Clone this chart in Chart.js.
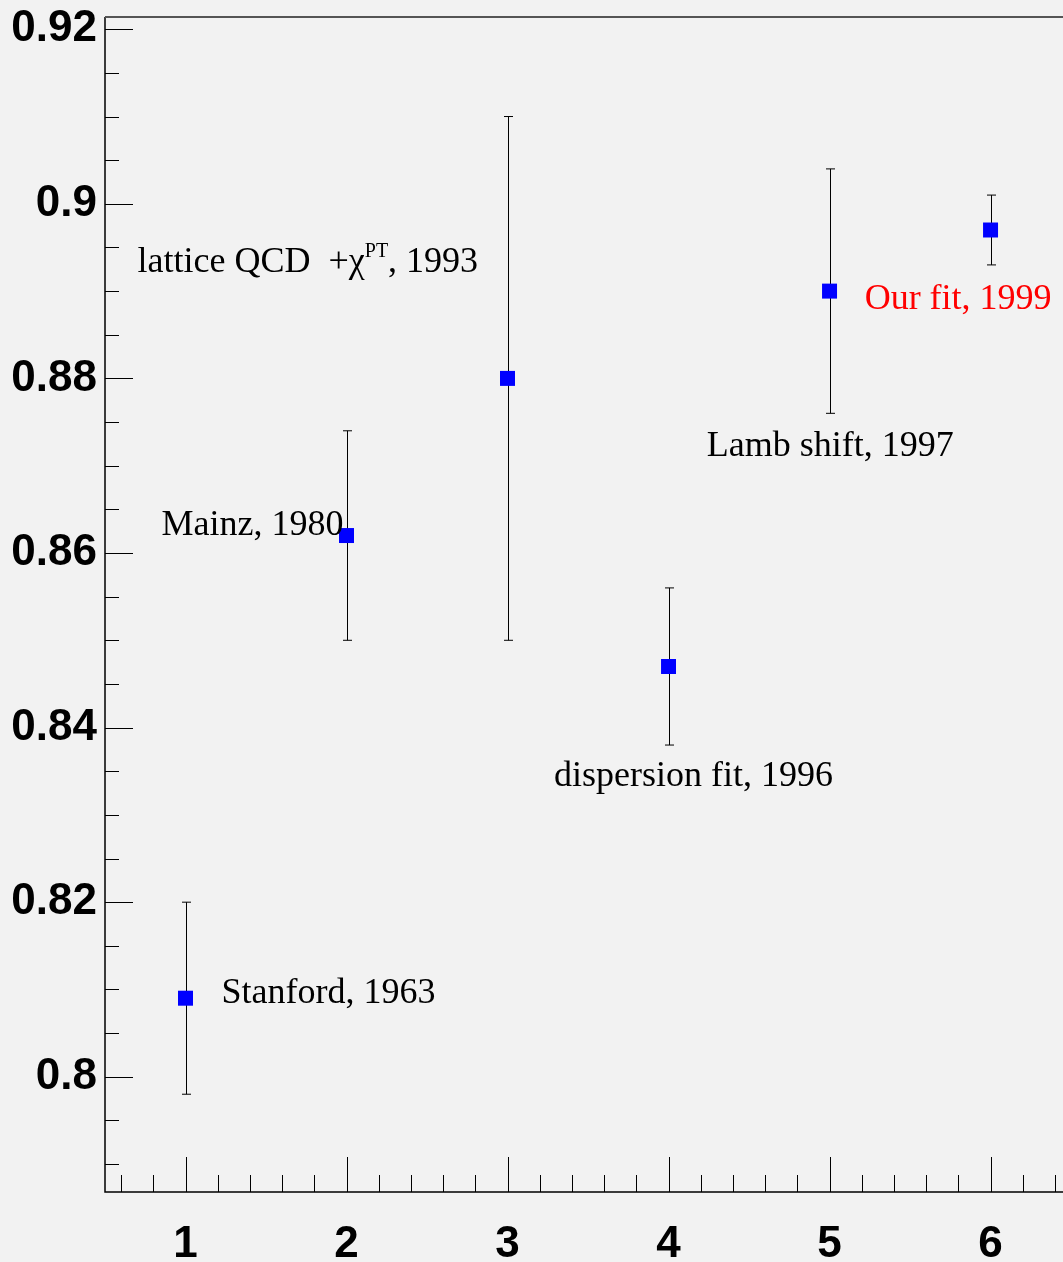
<!DOCTYPE html>
<html lang="en">
<head>
<meta charset="UTF-8">
<title>Proton radius measurements</title>
<script src="https://cdn.jsdelivr.net/npm/chart.js"></script>
<style>
  html, body { margin: 0; padding: 0; background: #f2f2f2; overflow: hidden; }
  #wrap { width: 1063px; height: 1262px; }
</style>
</head>
<body>
<div id="wrap"><canvas id="chart" width="1063" height="1262"></canvas></div>
<script>
// measurements (x index, central value, error bar ends)
const xPos   = [1, 2, 3, 4, 5, 6];
const values = [0.809, 0.862, 0.880, 0.847, 0.890, 0.897];
const upper  = [0.820, 0.874, 0.910, 0.856, 0.904, 0.901];
const lower  = [0.798, 0.850, 0.850, 0.838, 0.876, 0.893];

const xTicks = [1, 2, 3, 4, 5, 6];
const yTicks = [0.8, 0.82, 0.84, 0.86, 0.88, 0.9, 0.92];

// text labels, anchored in data coordinates
const notes = [
  { text: 'Stanford, 1963',       x: 1.223, y: 0.8085, color: '#000' },
  { text: 'Mainz, 1980',          x: 0.851, y: 0.8621, color: '#000' },
  { text: 'lattice QCD  +\u03c7', sup: 'PT', tail: ', 1993', x: 0.702, y: 0.8922, color: '#000' },
  { text: 'dispersion fit, 1996', x: 3.289, y: 0.8333, color: '#000' },
  { text: 'Lamb shift, 1997',     x: 4.238, y: 0.8711, color: '#000' },
  { text: 'Our fit, 1999',        x: 5.218, y: 0.8879, color: '#ff0000' }
];

const serif = '"Liberation Serif", "Times New Roman", serif';
const sans = '"Liberation Sans", Arial, sans-serif';

// no extra room for overhanging tick labels, the frame sits at fixed edges
const noPad = s => { s.paddingTop = 0; s.paddingBottom = 0; s.paddingLeft = 0; s.paddingRight = 0; };

const rootStyle = {
  id: 'rootStyle',
  beforeDatasetsDraw(chart) {
    const { ctx, scales: { x, y } } = chart;
    ctx.save();
    // error bars
    ctx.strokeStyle = '#000';
    ctx.lineWidth = 1;
    xPos.forEach((xv, i) => {
      const px = Math.round(x.getPixelForValue(xv)) + 0.5;
      const top = y.getPixelForValue(upper[i]);
      const bot = y.getPixelForValue(lower[i]);
      ctx.beginPath();
      ctx.moveTo(px, top); ctx.lineTo(px, bot);
      ctx.moveTo(px - 4.5, top); ctx.lineTo(px + 4.5, top);
      ctx.moveTo(px - 4.5, bot); ctx.lineTo(px + 4.5, bot);
      ctx.stroke();
    });
    ctx.restore();
  },
  afterDraw(chart) {
    const { ctx, chartArea: a, scales: { x, y } } = chart;
    ctx.save();
    // axes and frame
    ctx.strokeStyle = '#000';
    ctx.lineWidth = 1.5;
    ctx.beginPath();
    ctx.moveTo(a.left, a.top); ctx.lineTo(a.left, a.bottom); ctx.lineTo(a.right, a.bottom);
    ctx.stroke();
    ctx.strokeStyle = '#555';
    ctx.lineWidth = 2;
    ctx.beginPath();
    ctx.moveTo(a.left, a.top); ctx.lineTo(a.right, a.top);
    ctx.stroke();

    // tick marks, drawn inside the frame
    ctx.strokeStyle = '#000';
    ctx.lineWidth = 1;
    ctx.beginPath();
    for (let k = 0; k * 0.2 + 0.6 <= x.max + 1e-9; k++) {
      const v = 0.6 + k * 0.2;
      const major = Math.abs(v - Math.round(v)) < 1e-6;
      const px = Math.round(x.getPixelForValue(v)) + 0.5;
      ctx.moveTo(px, a.bottom);
      ctx.lineTo(px, a.bottom - (major ? 35 : 17));
    }
    for (let k = 0; 0.79 + k * 0.005 <= y.max + 1e-9; k++) {
      const v = 0.79 + k * 0.005;
      const major = Math.abs(v / 0.02 - Math.round(v / 0.02)) < 1e-6;
      const py = Math.round(y.getPixelForValue(v)) + 0.5;
      ctx.moveTo(a.left, py);
      ctx.lineTo(a.left + (major ? 28 : 14), py);
    }
    ctx.stroke();

    // labels
    ctx.textBaseline = 'alphabetic';
    ctx.textAlign = 'left';
    notes.forEach(n => {
      let px = x.getPixelForValue(n.x);
      const py = y.getPixelForValue(n.y);
      ctx.fillStyle = n.color;
      ctx.font = '36px ' + serif;
      ctx.fillText(n.text, px, py);
      if (n.sup) {
        px += ctx.measureText(n.text).width;
        ctx.font = '20px ' + serif;
        ctx.fillText(n.sup, px, py - 15);
        px += ctx.measureText(n.sup).width;
        ctx.font = '36px ' + serif;
        ctx.fillText(n.tail, px, py);
      }
    });
    ctx.restore();
  }
};

new Chart(document.getElementById('chart'), {
  type: 'scatter',
  data: {
    datasets: [{
      data: xPos.map((xv, i) => ({ x: xv, y: values[i] })),
      pointStyle: 'rect',
      pointRadius: 10.6,
      pointHoverRadius: 10.6,
      pointBorderWidth: 0,
      backgroundColor: '#0000ff',
      borderColor: '#0000ff'
    }]
  },
  options: {
    responsive: false,
    animation: false,
    events: [],
    layout: { autoPadding: false, padding: { top: 17, right: 0, left: 0, bottom: 0 } },
    plugins: { legend: { display: false }, tooltip: { enabled: false } },
    scales: {
      x: {
        type: 'linear',
        min: 0.5,
        max: 6.45,
        afterBuildTicks: s => { s.ticks = xTicks.map(v => ({ value: v })); },
        afterFit: s => { s.height = 70; noPad(s); },
        grid: { display: false, drawTicks: false },
        border: { display: false },
        ticks: {
          padding: 26,
          color: '#000',
          maxRotation: 0,
          font: { family: sans, size: 44, weight: 'bold' },
          callback: v => String(v)
        }
      },
      y: {
        type: 'linear',
        min: 0.7868,
        max: 0.9214,
        afterBuildTicks: s => { s.ticks = yTicks.map(v => ({ value: v })); },
        afterFit: s => { s.width = 105; noPad(s); },
        grid: { display: false, drawTicks: false },
        border: { display: false },
        ticks: {
          padding: 8,
          color: '#000',
          font: { family: sans, size: 44, weight: 'bold' },
          callback: v => String(Math.round(v * 1000) / 1000)
        }
      }
    }
  },
  plugins: [rootStyle]
});
</script>
</body>
</html>
